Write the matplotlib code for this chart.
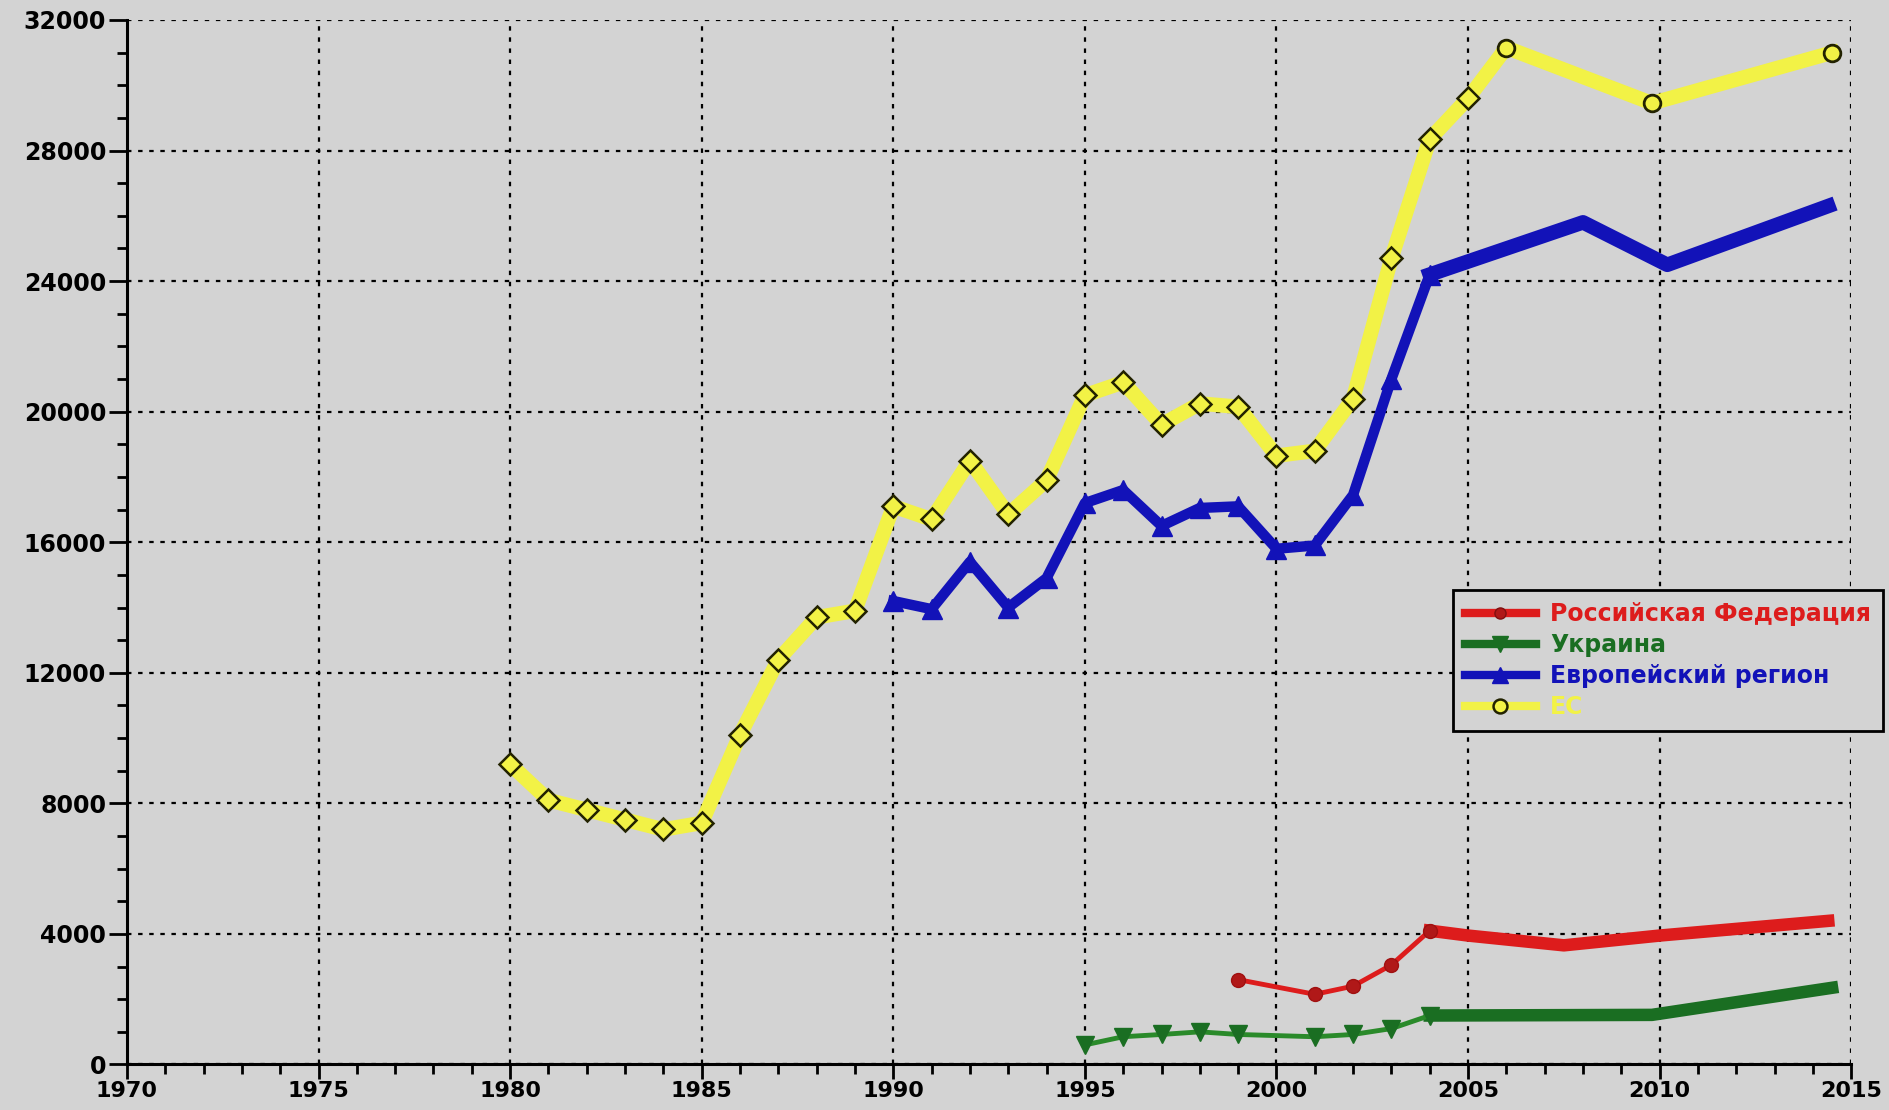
import matplotlib.pyplot as plt
from matplotlib.lines import Line2D
from matplotlib.ticker import MultipleLocator

# ЕС (yellow)
ec_years = [1980, 1981, 1982, 1983, 1984, 1985, 1986, 1987, 1988, 1989,
            1990, 1991, 1992, 1993, 1994, 1995, 1996, 1997, 1998, 1999,
            2000, 2001, 2002, 2003, 2004, 2005, 2006, 2009.8, 2014.5]
ec_vals = [9200, 8100, 7800, 7500, 7200, 7400, 10100, 12400, 13700, 13900,
           17100, 16700, 18500, 16850, 17900, 20500, 20900, 19600, 20250, 20150,
           18650, 18800, 20400, 24700, 28350, 29600, 31150, 29450, 31000]

# Европейский регион (blue)
eu_years = [1990, 1991, 1992, 1993, 1994, 1995, 1996, 1997, 1998, 1999,
            2000, 2001, 2002, 2003, 2004]
eu_vals = [14200, 13950, 15400, 14000, 14900, 17200, 17600, 16500, 17050, 17100,
           15800, 15900, 17450, 21000, 24200]
eu_years_late = [2004, 2008, 2010.2, 2014.4]
eu_vals_late = [24200, 25800, 24500, 26300]

# Российская Федерация (red)
ru_years = [1999, 2001, 2002, 2003, 2004]
ru_vals = [2600, 2150, 2400, 3050, 4100]
ru_years_late = [2004, 2005, 2007.5, 2010, 2014.4]
ru_vals_late = [4100, 3950, 3650, 3950, 4400]

# Украина (green)
ua_years = [1995, 1996, 1997, 1998, 1999, 2001, 2002, 2003, 2004]
ua_vals = [600, 850, 920, 1000, 920, 850, 920, 1100, 1500]
ua_years_late = [2004, 2009.8, 2014.5]
ua_vals_late = [1500, 1520, 2350]

labels = ["Российская Федерация", "Украина", "Европейский регион", "ЕС"]

bg = "#d3d3d3"
c_ec = "#f2f246"
c_eu = "#1212b8"
c_ru = "#dd1c1c"
c_ua = "#1a6e22"

plt.rcParams["font.family"] = "DejaVu Sans"
plt.rcParams["font.weight"] = "bold"

fig = plt.figure(figsize=(18.89, 11.10), dpi=100, facecolor=bg)
ax = fig.add_axes([0.0672, 0.041, 0.9128, 0.941])
ax.set_facecolor(bg)

# EC line + markers (diamonds then circles)
ax.plot(ec_years, ec_vals, color=c_ec, lw=10.5, solid_joinstyle="round", zorder=2)
ax.plot(ec_years[:26], ec_vals[:26], "D", ms=11, mfc=c_ec, mec="#222200", mew=1.8, zorder=3)
ax.plot(ec_years[26:], ec_vals[26:], "o", ms=12, mfc=c_ec, mec="#222200", mew=2, zorder=3)

# Europe region
ax.plot(eu_years_late, eu_vals_late, color=c_eu, lw=10.5, solid_joinstyle="round", zorder=2)
ax.plot(eu_years, eu_vals, color=c_eu, lw=7.5, marker="^", ms=14, mfc=c_eu, mec=c_eu,
        solid_joinstyle="round", zorder=3)

# Russia
ax.plot(ru_years_late, ru_vals_late, color=c_ru, lw=9, solid_joinstyle="round", zorder=2)
ax.plot(ru_years, ru_vals, color=c_ru, lw=3.5, marker="o", ms=10, mfc="#b01818", mec="#a01010",
        zorder=3)

# Ukraine
ax.plot(ua_years_late, ua_vals_late, color=c_ua, lw=9, solid_joinstyle="round", zorder=2)
ax.plot(ua_years, ua_vals, color="#2a8a2a", lw=3.5, marker="v", ms=13, mfc=c_ua, mec=c_ua,
        zorder=3)

ax.set_xlim(1970, 2015)
ax.set_ylim(0, 32000)
ax.xaxis.set_major_locator(MultipleLocator(5))
ax.xaxis.set_minor_locator(MultipleLocator(1))
ax.yaxis.set_major_locator(MultipleLocator(4000))
ax.yaxis.set_minor_locator(MultipleLocator(1000))
ax.grid(True, which="major", color="black", ls=(0, (2, 3)), lw=1.6, zorder=1)
ax.set_axisbelow(True)

for s in ["top", "right"]:
    ax.spines[s].set_visible(False)
for s in ["left", "bottom"]:
    ax.spines[s].set_linewidth(2.2)

ax.tick_params(which="major", direction="out", length=13, width=2, labelsize=17, pad=2)
ax.tick_params(axis="x", which="major", length=11, labelsize=16, pad=1)
ax.tick_params(which="minor", direction="out", length=7, width=2)
for lab in ax.get_xticklabels() + ax.get_yticklabels():
    lab.set_fontweight("bold")

handles = [
    Line2D([], [], color=c_ru, lw=6, marker="o", ms=8, mfc="#b01818", mec="#801010"),
    Line2D([], [], color=c_ua, lw=6, marker="v", ms=11, mfc=c_ua, mec=c_ua),
    Line2D([], [], color=c_eu, lw=6, marker="^", ms=11, mfc=c_eu, mec=c_eu),
    Line2D([], [], color=c_ec, lw=6, marker="o", ms=10, mfc=c_ec, mec="#222200", mew=1.8),
]
leg = fig.legend(handles, labels, loc="upper left", bbox_to_anchor=(0.763, 0.479),
                 bbox_transform=fig.transFigure, fancybox=False, framealpha=1,
                 facecolor=bg, edgecolor="black", fontsize=17, handlelength=3,
                 borderpad=0.5, labelspacing=0.3, handletextpad=0.6)
leg.get_frame().set_linewidth(2)
for txt, col in zip(leg.get_texts(), [c_ru, c_ua, c_eu, c_ec]):
    txt.set_color(col)
    txt.set_fontweight("bold")

fig.savefig("out.png", dpi=100, facecolor=bg)
